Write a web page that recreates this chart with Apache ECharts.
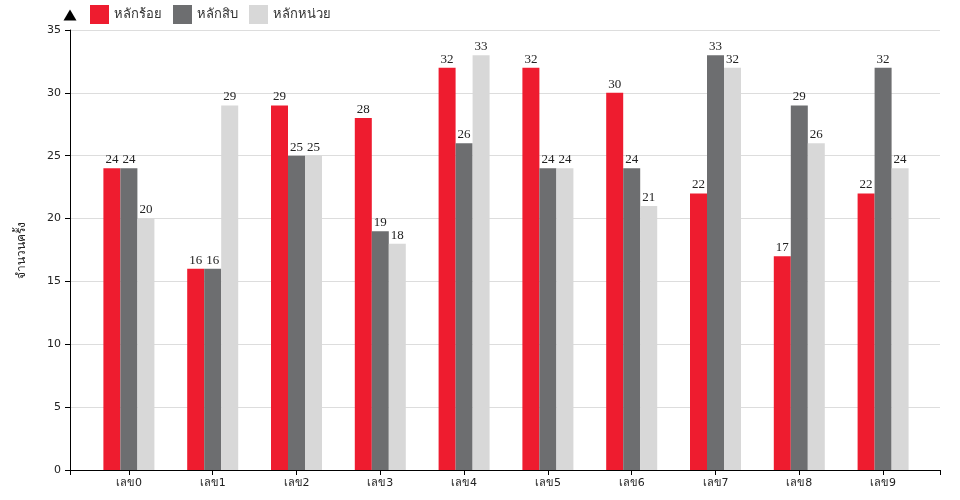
<!DOCTYPE html>
<html><head><meta charset="utf-8">
<script src="https://cdn.jsdelivr.net/npm/echarts@6/dist/echarts.min.js"></script>
<style>html,body{margin:0;padding:0;background:#fff}#c{width:960px;height:500px}</style>
</head><body><div id="c"></div>
<script>
const categories = ['เลข0','เลข1','เลข2','เลข3','เลข4','เลข5','เลข6','เลข7','เลข8','เลข9'];
const seriesNames = ['หลักร้อย','หลักสิบ','หลักหน่วย'];
const hundreds = [24,16,29,28,32,32,30,22,17,22];
const tens = [24,16,25,19,26,24,24,33,29,32];
const units = [20,29,25,18,33,24,21,32,26,24];
const colors = ['#EE1C2F','#6D6E70','#D8D8D8'];
const yTicks = {min:0, max:35, interval:5};

const chart = echarts.init(document.getElementById('c'), null, {renderer:'canvas'});
const labelStyle = {show:true, position:'top', distance:2, fontFamily:'Liberation Serif', fontSize:13, color:'#222'};
const mk = (name, data, i) => ({
  name, type:'bar', data, xAxisIndex:1, yAxisIndex:1, barWidth:17, barGap:'0%',
  itemStyle:{color:colors[i]}, label:labelStyle
});
chart.setOption({
  animation:false,
  color: colors,
  textStyle:{fontFamily:'DejaVu Sans'},
  legend:{left:85, top:0, itemWidth:19, itemHeight:19, itemGap:11, icon:'rect',
    textStyle:{fontSize:13, color:'#333', fontFamily:'DejaVu Sans'}, data: seriesNames},
  grid:[
    {left:70, right:20, top:30, bottom:30},
    {left:87, right:35, top:30, bottom:30}
  ],
  xAxis:[
    {type:'value', gridIndex:0, min:0, max:1, interval:1,
     axisLine:{show:true, lineStyle:{color:'#000', width:1}},
     axisTick:{show:true, length:5, lineStyle:{color:'#000'}},
     axisLabel:{show:false}, splitLine:{show:false}},
    {type:'category', gridIndex:1, data:categories,
     axisLine:{show:false},
     axisTick:{show:true, alignWithLabel:true, length:5, lineStyle:{color:'#000'}},
     axisLabel:{fontSize:11, color:'#222', margin:8, fontFamily:'DejaVu Sans'}}
  ],
  yAxis:[
    {type:'value', gridIndex:0, min:yTicks.min, max:yTicks.max, interval:yTicks.interval,
     name:'จำนวนครั้ง', nameLocation:'middle', nameRotate:90, nameGap:42,
     nameTextStyle:{fontSize:12, color:'#222', fontFamily:'DejaVu Sans'},
     axisLine:{show:true, lineStyle:{color:'#000', width:1}, symbol:['none','triangle'], symbolSize:[13,11], symbolOffset:[0,15]},
     axisTick:{show:true, length:5, lineStyle:{color:'#000'}},
     axisLabel:{fontSize:11, color:'#222', margin:9},
     splitLine:{show:true, lineStyle:{color:'#DDDDDD', width:1}}},
    {type:'value', gridIndex:1, min:yTicks.min, max:yTicks.max, interval:yTicks.interval,
     axisLine:{show:false}, axisTick:{show:false}, axisLabel:{show:false}, splitLine:{show:false}}
  ],
  series:[mk(seriesNames[0], hundreds, 0), mk(seriesNames[1], tens, 1), mk(seriesNames[2], units, 2)]
});
</script></body></html>
